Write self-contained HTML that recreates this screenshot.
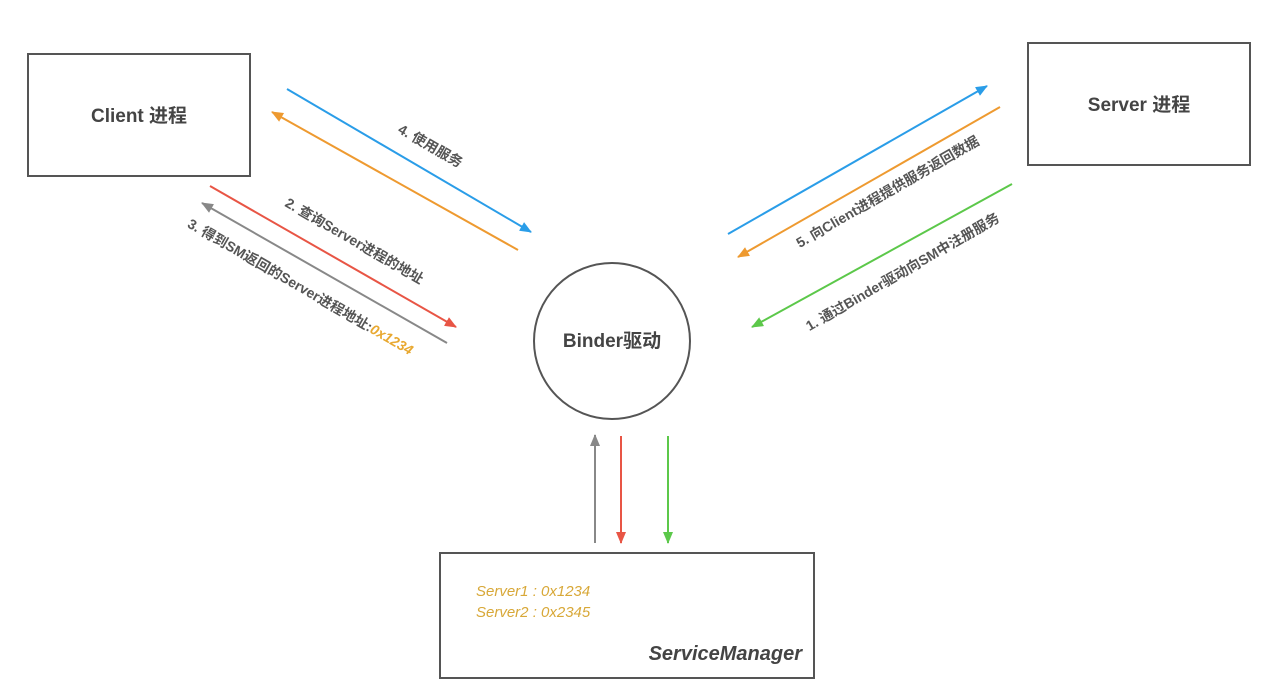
<!DOCTYPE html>
<html><head><meta charset="utf-8"><style>
body{margin:0;background:#fff;}
svg{display:block;font-family:"Liberation Sans","Noto Sans CJK SC",sans-serif;}
</style></head><body>
<svg width="1276" height="698" viewBox="0 0 1276 698">
<defs>
<marker id="mb" markerWidth="12" markerHeight="10" refX="11" refY="5" orient="auto" markerUnits="userSpaceOnUse"><path d="M0,0 L12,5 L0,10z" fill="#2a9de8"/></marker>
<marker id="mo" markerWidth="12" markerHeight="10" refX="11" refY="5" orient="auto" markerUnits="userSpaceOnUse"><path d="M0,0 L12,5 L0,10z" fill="#ee9a30"/></marker>
<marker id="mr" markerWidth="12" markerHeight="10" refX="11" refY="5" orient="auto" markerUnits="userSpaceOnUse"><path d="M0,0 L12,5 L0,10z" fill="#e85545"/></marker>
<marker id="mg" markerWidth="12" markerHeight="10" refX="11" refY="5" orient="auto" markerUnits="userSpaceOnUse"><path d="M0,0 L12,5 L0,10z" fill="#888"/></marker>
<marker id="mn" markerWidth="12" markerHeight="10" refX="11" refY="5" orient="auto" markerUnits="userSpaceOnUse"><path d="M0,0 L12,5 L0,10z" fill="#5cc84a"/></marker>
</defs>
<g fill="none" stroke="#555" stroke-width="2">
<rect x="28" y="54" width="222" height="122"/>
<rect x="1028" y="43" width="222" height="122"/>
<circle cx="612" cy="341" r="78"/>
<rect x="440" y="553" width="374" height="125"/>
</g>
<g font-weight="bold" fill="#444" font-size="19" text-anchor="middle">
<text x="139" y="122">Client 进程</text>
<text x="1139" y="111">Server 进程</text>
<text x="612" y="347">Binder驱动</text>
</g>
<text x="802" y="660" text-anchor="end" font-size="20" font-weight="bold" font-style="italic" fill="#444">ServiceManager</text>
<text x="476" y="596" font-size="15" font-style="italic" fill="#d8a838">Server1 : 0x1234</text>
<text x="476" y="617" font-size="15" font-style="italic" fill="#d8a838">Server2 : 0x2345</text>
<g stroke-width="2">
<line x1="287" y1="89" x2="531" y2="232" stroke="#2a9de8" marker-end="url(#mb)"/>
<line x1="518" y1="250" x2="272" y2="112" stroke="#ee9a30" marker-end="url(#mo)"/>
<line x1="210" y1="186" x2="456" y2="327" stroke="#e85545" marker-end="url(#mr)"/>
<line x1="447" y1="343" x2="202" y2="203" stroke="#888" marker-end="url(#mg)"/>
<line x1="728" y1="234" x2="987" y2="86" stroke="#2a9de8" marker-end="url(#mb)"/>
<line x1="1000" y1="107" x2="738" y2="257" stroke="#ee9a30" marker-end="url(#mo)"/>
<line x1="1012" y1="184" x2="752" y2="327" stroke="#5cc84a" marker-end="url(#mn)"/>
<line x1="595" y1="543" x2="595" y2="435" stroke="#888" marker-end="url(#mg)"/>
<line x1="621" y1="436" x2="621" y2="543" stroke="#e85545" marker-end="url(#mr)"/>
<line x1="668" y1="436" x2="668" y2="543" stroke="#5cc84a" marker-end="url(#mn)"/>
</g>
<g font-size="14" font-weight="bold" fill="#555" text-anchor="middle">
<text transform="translate(428,150) rotate(30)">4. 使用服务</text>
<text transform="translate(352,245) rotate(30)">2. 查询Server进程的地址</text>
<text transform="translate(298,291) rotate(30)">3. 得到SM返回的Server进程地址:<tspan fill="#e8a830" font-style="italic">0x1234</tspan></text>
<text transform="translate(890,196) rotate(-30)">5. 向Client进程提供服务返回数据</text>
<text transform="translate(905,276) rotate(-30)">1. 通过Binder驱动向SM中注册服务</text>
</g>
</svg>
</body></html>
